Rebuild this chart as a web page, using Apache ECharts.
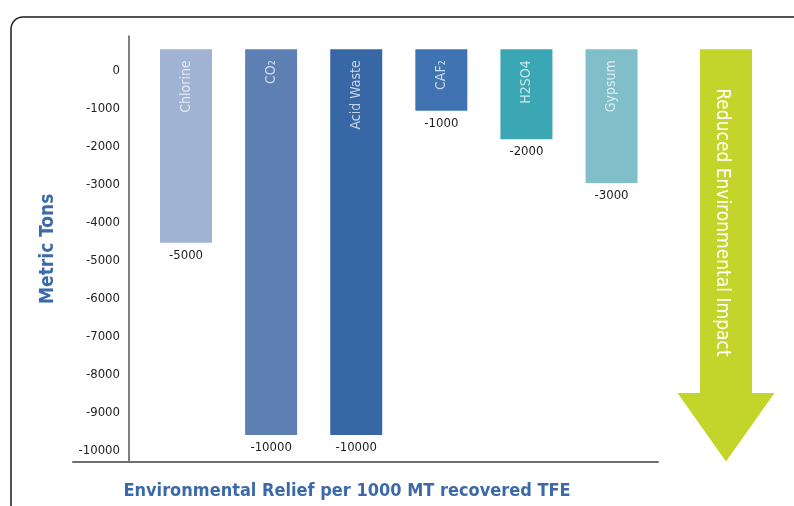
<!DOCTYPE html>
<html><head><meta charset="utf-8">
<script src="https://cdn.jsdelivr.net/npm/echarts@6/dist/echarts.min.js"></script>
<style>html,body{margin:0;padding:0;background:#fff}#c{width:794px;height:506px}</style>
</head><body><div id="c"></div>
<script>
// ---- data ----
const categories = ['Chlorine', 'CO\u2082', 'Acid Waste', 'CAF\u2082', 'H2SO4', 'Gypsum'];
// where each bar ends on the Metric Tons axis (labels show them rounded to the thousand)
const values = [-4530, -9590, -9590, -1050, -1800, -2950];
// bars in the original start slightly above zero
const barTopValue = 570;
const tickValues = [0, -1000, -2000, -3000, -4000, -5000, -6000, -7000, -8000, -9000, -10000];
const barColors = ['#a0b3d2', '#5e7fb4', '#3767a5', '#3f73b1', '#3ba7b4', '#80bfc9'];

const FONT = "'Liberation Sans Narrow', 'DejaVu Sans Condensed', 'Liberation Sans', sans-serif";
const BLUE = '#3c6aa8';

const chart = echarts.init(document.getElementById('c'), null, {renderer: 'canvas'});
const Y_MIN = -10290, Y_MAX = 920;
const option = {
  animation: false,
  grid: {left: 73, right: 136, top: 36, bottom: 44.5},
  xAxis: {
    type: 'value', min: -1.328, max: 5.546,
    axisLine: {show: true, onZero: false, lineStyle: {color: '#707070', width: 2}},
    axisTick: {show: false}, axisLabel: {show: false}, splitLine: {show: false}
  },
  yAxis: {
    type: 'value', min: Y_MIN, max: Y_MAX, offset: -56,
    name: 'Metric Tons', nameLocation: 'middle', nameGap: 71, nameRotate: 90,
    nameTextStyle: {color: BLUE, fontFamily: FONT, fontSize: 19, fontWeight: 'bold'},
    axisLine: {show: true, onZero: false, lineStyle: {color: '#555', width: 1.5}},
    axisTick: {show: false}, splitLine: {show: false},
    axisLabel: {customValues: tickValues, margin: 9, color: '#222', fontFamily: FONT, fontSize: 13,
                formatter: v => String(v)}
  },
  series: [
    {
      type: 'bar', stack: 's', barWidth: 52,
      data: values.map((v, i) => ({value: [i, v], itemStyle: {color: barColors[i]}})),
      label: {
        show: true, position: 'bottom', distance: 6,
        formatter: p => String(Math.round(p.value[1] / 1000) * 1000),
        color: '#1e1e1e', fontFamily: FONT, fontSize: 13
      }
    },
    {
      type: 'bar', stack: 's', barWidth: 52,
      data: categories.map((c, i) => ({value: [i, barTopValue], itemStyle: {color: barColors[i]}})),
      label: {
        show: true, position: ['50%', 11], rotate: 90, align: 'right', verticalAlign: 'middle',
        formatter: p => categories[p.dataIndex],
        color: 'rgba(255,255,255,0.72)', fontFamily: FONT, fontSize: 14
      }
    }
  ]
};
chart.setOption(option);

// decorative arrow placed through the chart's own scales
const arrowX = 6.345, arrowHeadValue = -8487;
const cx = chart.convertToPixel({xAxisIndex: 0}, arrowX);
const yTop = chart.convertToPixel({yAxisIndex: 0}, barTopValue);
const yHead = chart.convertToPixel({yAxisIndex: 0}, arrowHeadValue);
const yTip = chart.convertToPixel({yAxisIndex: 0}, Y_MIN);
chart.setOption({
  graphic: [
    {type: 'rect', silent: true, shape: {x: 11, y: 17, width: 830, height: 530, r: 12},
     style: {fill: 'none', stroke: '#1c1c1c', lineWidth: 1.5}},
    {type: 'polygon', silent: true,
     shape: {points: [[cx - 26, yTop], [cx + 26, yTop], [cx + 26, yHead], [cx + 48.5, yHead], [cx, yTip], [cx - 48.5, yHead], [cx - 26, yHead]]},
     style: {fill: '#c3d52b'}},
    {type: 'text', silent: true, x: cx - 4, y: yTop + 39, rotation: -Math.PI / 2,
     style: {text: 'Reduced Environmental Impact', fill: '#ffffff', fontFamily: FONT, fontSize: 19,
             align: 'left', textAlign: 'left', verticalAlign: 'middle', textVerticalAlign: 'middle'}},
    {type: 'text', silent: true, x: 347, y: 491,
     style: {text: 'Environmental Relief per 1000 MT recovered TFE', fill: BLUE, fontFamily: FONT, fontSize: 18, fontWeight: 'bold',
             align: 'center', textAlign: 'center', verticalAlign: 'middle', textVerticalAlign: 'middle'}}
  ]
});
</script>
</body></html>
